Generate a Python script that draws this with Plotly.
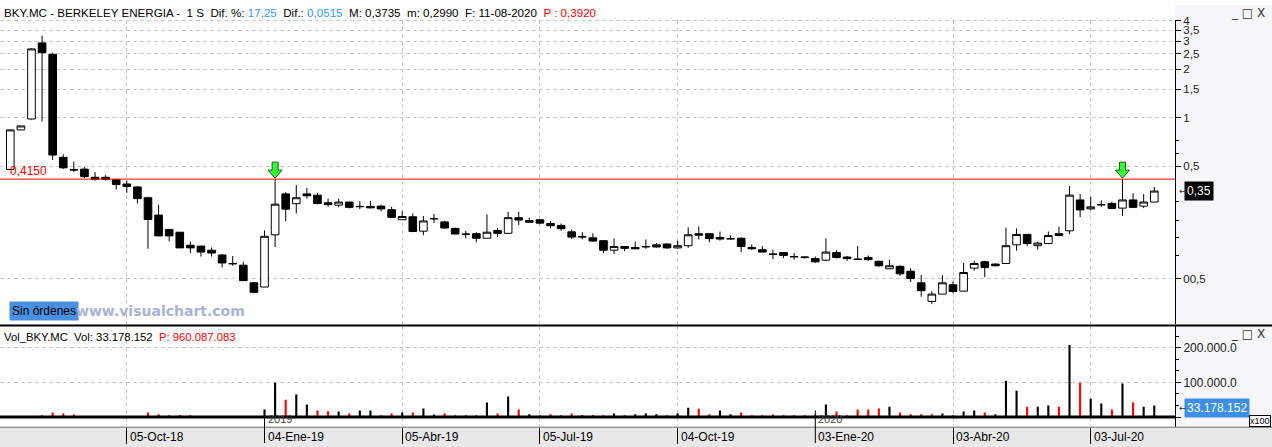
import math
import pandas as pd
import plotly.graph_objects as go

W, H = 1272, 447

# datos semanales BKY.MC (viernes)
fechas = pd.date_range("2018-07-20", periods=109, freq="7D")

apertura = [0.477, 0.840, 0.982, 2.92, 2.48, 0.567, 0.476, 0.479, 0.426, 0.426,
            0.412, 0.387, 0.371, 0.318, 0.248, 0.202, 0.194, 0.161, 0.159, 0.150,
            0.140, 0.124, 0.121, 0.094, 0.0885, 0.187, 0.336, 0.292, 0.336, 0.330,
            0.296, 0.286, 0.299, 0.281, 0.281, 0.282, 0.268, 0.232, 0.242, 0.197,
            0.236, 0.225, 0.205, 0.189, 0.190, 0.178, 0.199, 0.191, 0.239, 0.229,
            0.232, 0.220, 0.214, 0.195, 0.182, 0.179, 0.172, 0.150, 0.158, 0.156,
            0.158, 0.162, 0.164, 0.155, 0.160, 0.190, 0.190, 0.180, 0.177, 0.178,
            0.156, 0.151, 0.142, 0.145, 0.137, 0.136, 0.133, 0.130, 0.145, 0.136,
            0.132, 0.135, 0.128, 0.115, 0.119, 0.111, 0.094, 0.072, 0.080, 0.0914,
            0.0834, 0.116, 0.127, 0.123, 0.124, 0.162, 0.188, 0.160, 0.165, 0.190,
            0.198, 0.308, 0.271, 0.288, 0.293, 0.274, 0.308, 0.282, 0.299]
maximo = [0.845, 0.892, 2.70, 3.24, 2.54, 0.592, 0.534, 0.493, 0.459, 0.440,
          0.417, 0.406, 0.376, 0.322, 0.288, 0.202, 0.194, 0.170, 0.160, 0.156,
          0.142, 0.138, 0.127, 0.095, 0.199, 0.415, 0.344, 0.382, 0.366, 0.341,
          0.314, 0.314, 0.299, 0.303, 0.304, 0.288, 0.279, 0.262, 0.254, 0.245,
          0.252, 0.229, 0.207, 0.198, 0.194, 0.251, 0.207, 0.260, 0.260, 0.239,
          0.234, 0.228, 0.220, 0.201, 0.194, 0.191, 0.172, 0.178, 0.158, 0.170,
          0.175, 0.166, 0.165, 0.172, 0.208, 0.211, 0.190, 0.196, 0.185, 0.180,
          0.163, 0.159, 0.151, 0.146, 0.144, 0.138, 0.137, 0.178, 0.150, 0.138,
          0.159, 0.139, 0.129, 0.131, 0.121, 0.116, 0.105, 0.0834, 0.105, 0.096,
          0.125, 0.129, 0.129, 0.124, 0.207, 0.205, 0.188, 0.170, 0.196, 0.210,
          0.376, 0.336, 0.322, 0.306, 0.300, 0.415, 0.339, 0.335, 0.371]
minimo = [0.475, 0.838, 0.975, 0.949, 0.546, 0.481, 0.459, 0.422, 0.406, 0.406,
          0.357, 0.341, 0.293, 0.153, 0.184, 0.170, 0.155, 0.144, 0.137, 0.137,
          0.117, 0.120, 0.097, 0.081, 0.0885, 0.157, 0.227, 0.254, 0.314, 0.289,
          0.279, 0.277, 0.273, 0.270, 0.273, 0.262, 0.240, 0.232, 0.194, 0.186,
          0.221, 0.203, 0.189, 0.178, 0.168, 0.178, 0.181, 0.191, 0.215, 0.223,
          0.217, 0.205, 0.198, 0.176, 0.175, 0.170, 0.144, 0.142, 0.148, 0.153,
          0.153, 0.156, 0.153, 0.153, 0.155, 0.175, 0.168, 0.172, 0.174, 0.146,
          0.151, 0.146, 0.132, 0.134, 0.131, 0.133, 0.125, 0.128, 0.133, 0.129,
          0.131, 0.129, 0.118, 0.115, 0.104, 0.095, 0.077, 0.0693, 0.080, 0.081,
          0.0834, 0.112, 0.102, 0.119, 0.124, 0.149, 0.159, 0.151, 0.165, 0.184,
          0.189, 0.241, 0.267, 0.279, 0.272, 0.245, 0.274, 0.274, 0.299]
cierre = [0.840, 0.889, 2.68, 2.54, 0.586, 0.488, 0.473, 0.430, 0.414, 0.413,
          0.384, 0.373, 0.314, 0.233, 0.184, 0.184, 0.155, 0.155, 0.146, 0.144,
          0.125, 0.1235, 0.097, 0.082, 0.183, 0.290, 0.270, 0.318, 0.327, 0.293,
          0.288, 0.299, 0.277, 0.280, 0.275, 0.271, 0.240, 0.243, 0.196, 0.228,
          0.235, 0.206, 0.189, 0.1885, 0.178, 0.194, 0.191, 0.239, 0.231, 0.224,
          0.221, 0.213, 0.204, 0.181, 0.1815, 0.171, 0.150, 0.158, 0.154, 0.153,
          0.1575, 0.157, 0.155, 0.160, 0.187, 0.186, 0.177, 0.176, 0.1765, 0.158,
          0.153, 0.146, 0.1415, 0.139, 0.1365, 0.1355, 0.127, 0.146, 0.135, 0.133,
          0.1315, 0.131, 0.120, 0.120, 0.107, 0.100, 0.084, 0.080, 0.094, 0.083,
          0.109, 0.124, 0.117, 0.120, 0.160, 0.188, 0.165, 0.166, 0.185, 0.185,
          0.330, 0.267, 0.279, 0.2875, 0.273, 0.308, 0.277, 0.299, 0.350]

# volumen (miles)
volumen = [0.5, 0.5, 0.5, 4.8, 13, 10, 7, 0.5, 0.5, 0.5,
           0.5, 0.5, 0.5, 13, 8, 5, 6, 5, 0.5, 0.5,
           0.5, 0.5, 0.5, 0.5, 22, 99, 50, 65, 36, 19,
           17, 16, 10, 19, 19, 5, 10, 13, 13, 25,
           7, 10, 5, 5, 5, 42, 10, 59, 22, 8,
           4, 8, 4, 10, 6, 6, 5, 10, 5, 8,
           10, 8, 4, 10, 27, 24, 8, 19, 8, 13,
           5, 5, 7, 3, 4, 3, 7, 36, 16, 4,
           22, 22, 25, 30, 13, 8, 8, 8, 10, 5,
           16, 19, 13, 8, 105, 76, 30, 30, 33, 30,
           208, 99, 53, 39, 22, 97, 42, 30, 33.178]
# k = barra negra, r = barra roja
sube_vol = "".join(["kkkrrrrrrr", "rrrrrrrrrr", "rrrrkkrkkr", "rkrkkrrkrk", "krrrrkrkrk",
                    "rrrrrrrkrk", "kkrkkrrkkr", "rrrrrrrkrr", "rrrkrrrrkr", "kkrkkkrkkr",
                    "krkkrkrkk"])

senales = [25, 105]  # velas con flecha verde

fechas_grid = ["2018-10-05", "2019-04-05", "2019-07-05", "2019-10-04", "2020-04-03", "2020-07-03"]
fechas_eje = ["2018-10-05", "2019-01-04", "2019-04-05", "2019-07-05",
              "2019-10-04", "2020-01-03", "2020-04-03", "2020-07-03"]
textos_eje = ["05-Oct-18", "04-Ene-19", "05-Abr-19", "05-Jul-19",
              "04-Oct-19", "03-Ene-20", "03-Abr-20", "03-Jul-20"]
anios = [("2019-01-04", "2019"), ("2020-01-03", "2020")]

ticks_precio = [4, 3.5, 3, 2.5, 2, 1.5, 1, 0.5, 0.1]
textos_precio = ["4", "3,5", "3", "2,5", "2", "1,5", "1", "0,5", "00,5"]
nivel = 0.415
ultimo = 0.35


def px(x):
    return x / W


def py(y):
    return 1 - y / H


X_END = px(1175)
GRID = "#c8c8c8"
FONT = "Liberation Sans"

fig = go.Figure()
fig.add_trace(go.Candlestick(
    x=fechas, open=apertura, high=maximo, low=minimo, close=cierre,
    increasing=dict(line=dict(color="black", width=1), fillcolor="white"),
    decreasing=dict(line=dict(color="black", width=1), fillcolor="black"),
    whiskerwidth=0, xaxis="x", yaxis="y", showlegend=False, hoverinfo="skip"))
fig.add_trace(go.Bar(
    x=fechas, y=volumen,
    marker=dict(color=["black" if s == "k" else "#ff0000" for s in sube_vol], line_width=0),
    width=1.4 * 86400000, xaxis="x2", yaxis="y2", showlegend=False, hoverinfo="skip"))

rango_x = ["2018-07-13 04:48", "2020-08-27 17:00"]

fig.update_layout(
    width=W, height=H, margin=dict(l=0, r=0, t=0, b=0),
    paper_bgcolor="white", plot_bgcolor="white",
    font=dict(family=FONT, size=11, color="black"),
    showlegend=False, hovermode=False,
    boxgap=0.28, boxgroupgap=0,
    xaxis=dict(domain=[0, X_END], anchor="y", range=rango_x, type="date",
               tickvals=fechas_grid, showticklabels=False, ticks="",
               showgrid=True, gridcolor=GRID, griddash="4px,3px", gridwidth=1,
               rangeslider=dict(visible=False), zeroline=False, fixedrange=True),
    yaxis=dict(domain=[py(323), py(15)], anchor="x", type="log",
               range=[-1.28536, 0.60886], side="right",
               showline=True, linecolor="black", linewidth=1,
               ticks="outside", ticklen=5, tickcolor="black",
               tickvals=ticks_precio, ticktext=textos_precio,
               tickfont=dict(size=11.5, color="#222"),
               showgrid=True, gridcolor=GRID, griddash="4px,3px", zeroline=False,
               minor=dict(tickvals=[0.72, 0.6, 0.3, 0.23, 0.18, 0.14], ticks="outside",
                          ticklen=3, tickcolor="black", showgrid=False),
               fixedrange=True),
    xaxis2=dict(domain=[0, X_END], anchor="y2", range=rango_x, type="date",
                tickvals=fechas_grid, showticklabels=False,
                ticks="outside", ticklen=16, tickcolor="black",
                showgrid=True, gridcolor=GRID, griddash="4px,3px",
                zeroline=False, fixedrange=True),
    yaxis2=dict(domain=[py(427), py(325)], anchor="x2", range=[-29.4, 262], side="right",
                showline=True, linecolor="black", linewidth=1,
                ticks="outside", ticklen=5, tickcolor="black",
                tickvals=[0, 100, 200], ticktext=["", "100.000.0", "200.000.0"],
                tickfont=dict(size=12, color="#222"),
                showgrid=True, gridcolor=GRID, griddash="4px,3px", zeroline=False,
                minor=dict(tickvals=[33.3, 66.7, 133.3, 166.7, 233.3], ticks="outside",
                           ticklen=3, tickcolor="black", showgrid=False),
                fixedrange=True),
)

shapes = [
    dict(type="rect", xref="paper", yref="paper", x0=X_END, x1=1, y0=py(427), y1=1,
         fillcolor="#f6f5f7", line_width=0, layer="below"),
    dict(type="rect", xref="paper", yref="paper", x0=0, x1=1, y0=0, y1=py(427),
         fillcolor="#e8e8e8", line_width=0, layer="below"),
    dict(type="line", xref="paper", yref="paper", x0=0, x1=1, y0=py(324), y1=py(324),
         line=dict(color="black", width=2)),
    dict(type="line", xref="paper", yref="paper", x0=0, x1=1, y0=py(427), y1=py(427),
         line=dict(color="#707070", width=1)),
    dict(type="line", xref="paper", yref="y2", x0=0, x1=X_END, y0=0, y1=0,
         line=dict(color="black", width=3), layer="above"),
    dict(type="line", xref="paper", yref="y", x0=0, x1=X_END, y0=nivel, y1=nivel,
         line=dict(color="#ff0000", width=1)),
]
for f, _ in anios:
    shapes.append(dict(type="line", xref="x2", yref="paper", x0=f, x1=f,
                       y0=py(443), y1=py(410), line=dict(color="black", width=1)))
for i in senales:
    shapes.append(dict(type="path", xref="x", yref="y", xsizemode="pixel", ysizemode="pixel",
                       xanchor=fechas[i], yanchor=maximo[i],
                       path="M0,1 L-7,9 L-3,9 L-3,17 L3,17 L3,9 L7,9 Z",
                       fillcolor="#33ff33", line=dict(color="#1a5a1a", width=1)))
fig.update_layout(shapes=shapes)

ann = []
cab = ("BKY.MC - BERKELEY ENERGIA -  1 S  Dif. %: <span style='color:#3399ff'>17,25</span>"
       "  Dif.: <span style='color:#3399ff'>0,0515</span>  M: 0,3735  m: 0,2990"
       "  F: 11-08-2020  <span style='color:#ff0000'>P : 0,3920</span>")
ann.append(dict(text=cab, xref="paper", yref="paper", x=px(2), y=py(8),
                xanchor="left", yanchor="middle", showarrow=False, font=dict(size=11.6)))
ann.append(dict(text="Vol_BKY.MC  Vol: 33.178.152  <span style='color:#ff0000'>P: 960.087.083</span>",
                xref="paper", yref="paper", x=px(2), y=py(336),
                xanchor="left", yanchor="middle", showarrow=False, font=dict(size=11.3)))
for yy in (8, 333):
    ann.append(dict(text="_ □ X", xref="paper", yref="paper", x=px(1267), y=py(yy),
                    xanchor="right", yanchor="middle", showarrow=False,
                    font=dict(family="DejaVu Sans", size=12, color="#333")))
ann.append(dict(text="0,4150", xref="paper", yref="y", x=px(8), y=math.log10(nivel),
                xanchor="left", yanchor="bottom", yshift=-1, showarrow=False,
                font=dict(size=12, color="#ff0000")))
ann.append(dict(text="0,35", xref="paper", yref="y", x=px(1184), y=math.log10(ultimo),
                xanchor="left", yanchor="middle", showarrow=False, bgcolor="black",
                borderpad=2, font=dict(size=12, color="white")))
ann.append(dict(text="←", xref="paper", yref="y", x=px(1177), y=math.log10(ultimo),
                xanchor="left", yanchor="middle", showarrow=False,
                font=dict(family="DejaVu Sans", size=9, color="#333")))
ann.append(dict(text="33.178.152", xref="paper", yref="y2", x=px(1184), y=volumen[-1] - 6,
                xanchor="left", yanchor="middle", showarrow=False, bgcolor="#3d8fe6",
                borderpad=2, font=dict(size=12, color="white")))
ann.append(dict(text="←", xref="paper", yref="y2", x=px(1177), y=volumen[-1] - 6,
                xanchor="left", yanchor="middle", showarrow=False,
                font=dict(family="DejaVu Sans", size=9, color="#333")))
ann.append(dict(text="x100", xref="paper", yref="paper", x=px(1271), y=py(427),
                xanchor="right", yanchor="bottom", showarrow=False, bgcolor="white",
                bordercolor="black", borderwidth=1, borderpad=0, font=dict(size=9)))
ann.append(dict(text="Sin órdenes", xref="paper", yref="paper", x=px(9), y=py(309),
                xanchor="left", yanchor="middle", showarrow=False, bgcolor="#4a90e2",
                borderpad=2, font=dict(size=12, color="black")))
ann.append(dict(text="<b>www.visualchart.com</b>", xref="paper", yref="paper", x=px(74),
                y=py(309), xanchor="left", yanchor="middle", showarrow=False,
                font=dict(family="DejaVu Sans", size=14, color="#a9b3d6")))
for f, t in zip(fechas_eje, textos_eje):
    ann.append(dict(text=t, xref="x2", yref="paper", x=f, y=py(437), xshift=1,
                    xanchor="left", yanchor="middle", showarrow=False, font=dict(size=12)))
for f, t in anios:
    ann.append(dict(text=t, xref="x2", yref="paper", x=f, y=py(419), xshift=1,
                    xanchor="left", yanchor="middle", showarrow=False,
                    font=dict(size=11, color="#444")))
fig.update_layout(annotations=ann)

sin_margen = ("document.body.style.margin='0';document.body.style.overflow='hidden';"
              "var d=document.getElementById('{plot_id}');"
              "d.style.position='absolute';d.style.left='0px';d.style.top='0px';")
fig.write_html("out.html", config={"displayModeBar": False}, post_script=sin_margen)
